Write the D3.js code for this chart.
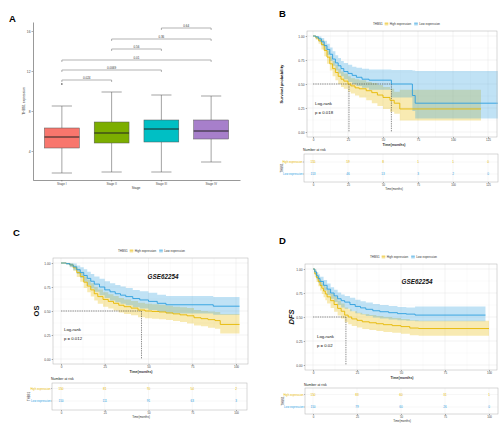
<!DOCTYPE html>
<html><head><meta charset="utf-8">
<script src="https://cdn.jsdelivr.net/npm/d3@7"></script>
<style>body{margin:0;background:#fff}svg{display:block;font-family:"Liberation Sans",Arial,sans-serif}</style>
</head><body><svg id="c" width="500" height="424"></svg>
<script>
// ---------------- DATA ----------------
// Panel A: THBS1 expression by stage
const stages = ["Stage I","Stage II","Stage III","Stage IV"];
const boxMin = [1.8,1.9,1.9,2.9];
const boxQ1  = [4.3,4.8,4.9,5.2];
const boxMed = [5.4,5.8,6.2,6.0];
const boxQ3  = [6.3,6.9,7.1,7.1];
const boxMax = [8.5,9.9,9.6,9.5];
const outlierStage = ["Stage I"];
const outlierValue = [10.7];
const boxColors = ["#F8766D","#7CAE00","#00BFC4","#A77FCB"];
const boxYTicks = [4,8,12,16];
const compFrom = ["Stage I","Stage I","Stage I","Stage II","Stage II","Stage III"];
const compTo   = ["Stage II","Stage III","Stage IV","Stage III","Stage IV","Stage IV"];
const compP    = ["0.024","0.0069","0.01","0.56","0.36","0.64"];
const compY    = [11.1,12.1,13.1,14.2,15.2,16.3];

// Groups
const groups = ["High expression","Low expression"];
const survYTicks = [0,0.25,0.5,0.75,1];

// Panel B (TCGA survival)
const bHighT  = [0,2,4,6,8,10,12,14,16,18,20,22,25,27,30,33,38,42,46,50,55,58,62,120];
const bHighS  = [1,0.98,0.95,0.91,0.85,0.78,0.71,0.66,0.62,0.58,0.55,0.53,0.50,0.48,0.46,0.45,0.43,0.41,0.385,0.36,0.33,0.30,0.24,0.24];
const bHighLo = [1,0.96,0.92,0.86,0.79,0.71,0.64,0.58,0.54,0.50,0.47,0.45,0.42,0.40,0.38,0.36,0.33,0.30,0.27,0.24,0.21,0.19,0.12,0.12];
const bHighHi = [1,1,0.98,0.96,0.91,0.85,0.79,0.74,0.70,0.66,0.63,0.61,0.58,0.56,0.55,0.54,0.52,0.51,0.49,0.47,0.45,0.42,0.44,0.44];
const bLowT   = [0,2,4,6,8,10,12,14,16,18,20,22,25,28,31,35,40,56,71,73,132];
const bLowS   = [1,0.99,0.97,0.94,0.90,0.86,0.81,0.76,0.72,0.69,0.66,0.63,0.61,0.59,0.57,0.55,0.54,0.50,0.38,0.30,0.30];
const bLowLo  = [1,0.97,0.94,0.90,0.85,0.80,0.74,0.69,0.64,0.61,0.58,0.55,0.52,0.50,0.48,0.46,0.44,0.36,0.22,0.14,0.14];
const bLowHi  = [1,1,0.995,0.98,0.95,0.92,0.88,0.84,0.80,0.77,0.74,0.72,0.70,0.68,0.67,0.66,0.65,0.645,0.64,0.635,0.635];
const bMedians = [25.7,56];
const bRiskT = [0,25,50,75,100,125];
const bRiskHigh = [155,59,8,1,1,0];
const bRiskLow  = [153,46,13,3,2,0];

// Panel C (GSE62254 OS)
const cHighT  = [0,3,5,7,9,11,13,15,17,19,21,24,27,30,33,36,40,44,48,52,56,60,64,68,72,76,80,84,88,91,102];
const cHighS  = [1,0.995,0.98,0.95,0.90,0.86,0.80,0.76,0.72,0.68,0.65,0.62,0.60,0.58,0.56,0.545,0.53,0.51,0.50,0.495,0.49,0.48,0.47,0.46,0.45,0.43,0.42,0.41,0.40,0.36,0.36];
const cHighLo = [1,0.985,0.96,0.92,0.855,0.805,0.74,0.695,0.65,0.61,0.575,0.545,0.525,0.505,0.485,0.47,0.455,0.435,0.425,0.42,0.415,0.405,0.395,0.385,0.37,0.35,0.34,0.325,0.315,0.265,0.265];
const cHighHi = [1,1,0.995,0.975,0.94,0.91,0.86,0.825,0.79,0.75,0.725,0.695,0.675,0.655,0.635,0.62,0.605,0.585,0.575,0.57,0.565,0.555,0.545,0.54,0.53,0.51,0.50,0.495,0.49,0.47,0.47];
const cLowT   = [0,3,5,7,9,11,13,15,17,19,22,25,28,31,34,37,41,45,50,55,60,87,102];
const cLowS   = [1,0.995,0.98,0.96,0.93,0.90,0.87,0.84,0.81,0.78,0.75,0.72,0.70,0.68,0.665,0.65,0.63,0.615,0.60,0.58,0.565,0.55,0.55];
const cLowLo  = [1,0.98,0.955,0.925,0.885,0.845,0.805,0.77,0.735,0.70,0.665,0.635,0.61,0.59,0.575,0.56,0.54,0.525,0.51,0.49,0.475,0.46,0.46];
const cLowHi  = [1,1,1,0.995,0.975,0.955,0.935,0.91,0.885,0.86,0.835,0.81,0.79,0.77,0.755,0.74,0.72,0.705,0.69,0.67,0.655,0.645,0.645];
const cMedians = [46];
const cRiskT = [0,25,50,75,100];
const cRiskHigh = [150,81,70,54,2];
const cRiskLow  = [150,111,91,63,3];

// Panel D (GSE62254 DFS)
const dHighT  = [0,1,2,3,4,5,6,7,8,10,12,14,16,18,20,22,25,28,32,36,40,45,50,55,60,100];
const dHighS  = [1,0.95,0.91,0.87,0.83,0.80,0.77,0.74,0.71,0.67,0.63,0.59,0.56,0.52,0.50,0.48,0.465,0.45,0.44,0.43,0.42,0.41,0.40,0.385,0.38,0.38];
const dHighLo = [1,0.915,0.865,0.82,0.775,0.74,0.705,0.675,0.64,0.595,0.555,0.515,0.485,0.445,0.425,0.405,0.39,0.375,0.365,0.355,0.345,0.335,0.325,0.31,0.305,0.305];
const dHighHi = [1,0.985,0.955,0.92,0.885,0.86,0.835,0.81,0.78,0.745,0.71,0.67,0.64,0.60,0.58,0.56,0.545,0.53,0.52,0.51,0.50,0.49,0.48,0.465,0.46,0.46];
const dLowT   = [0,1,2,3,4,6,8,10,12,14,16,18,21,24,27,30,34,38,43,48,53,58,98];
const dLowS   = [1,0.97,0.93,0.90,0.87,0.83,0.79,0.75,0.72,0.69,0.67,0.655,0.63,0.61,0.595,0.58,0.565,0.555,0.545,0.535,0.53,0.52,0.52];
const dLowLo  = [1,0.94,0.89,0.855,0.82,0.775,0.73,0.69,0.655,0.625,0.60,0.585,0.56,0.54,0.525,0.51,0.495,0.485,0.475,0.465,0.46,0.455,0.455];
const dLowHi  = [1,0.995,0.97,0.945,0.92,0.885,0.85,0.81,0.785,0.755,0.735,0.72,0.70,0.68,0.665,0.65,0.635,0.625,0.615,0.605,0.60,0.61,0.61];
const dMedians = [18.7];
const dRiskT = [0,25,50,75,100];
const dRiskHigh = [150,83,60,31,1];
const dRiskLow  = [150,79,60,26,0];

// ---------------- DRAW ----------------
const svg = d3.select("#c");
svg.append("rect").attr("width",500).attr("height",424).attr("fill","#fff");
const YEL = "#E7B800", BLU = "#2E9FDF";
const groupColor = d3.scaleOrdinal().domain(groups).range([YEL,BLU]);

function txt(g, x, y, s, o={}) {
  const t = g.append("text").attr("x",x).attr("y",y).text(s)
    .attr("font-size", o.size||3.5).attr("fill", o.fill||"#333")
    .attr("text-anchor", o.anchor||"start");
  if (o.weight) t.attr("font-weight",o.weight);
  if (o.style) t.attr("font-style",o.style);
  if (o.rotate) t.attr("transform",`rotate(-90,${x},${y})`);
  return t;
}
function styleAxis(ax, size) {
  ax.selectAll("path.domain").attr("stroke","#333").attr("stroke-width",0.5);
  ax.selectAll(".tick line").attr("stroke","#333").attr("stroke-width",0.4);
  ax.selectAll(".tick text").attr("font-size",size||3.3).attr("fill","#444").attr("font-family",null);
}

// ---- Panel A ----
const gA = svg.append("g");
txt(gA, 9, 22, "A", {size:9.5, weight:"bold", fill:"#000"});
const xA = d3.scaleBand().domain(stages).range([33,240]).paddingOuter(0.08);
const yA = d3.scaleLinear().domain([1.1,16.9]).range([180,22]);
const axAL = gA.append("g").attr("transform","translate(33,0)")
  .call(d3.axisLeft(yA).tickValues(boxYTicks).tickSize(1.5).tickSizeOuter(0).tickPadding(1));
styleAxis(axAL, 3.3);
const axAB = gA.append("g").attr("transform","translate(0,180)")
  .call(d3.axisBottom(xA).tickSize(1.5).tickSizeOuter(0).tickPadding(1));
styleAxis(axAB, 3);
txt(gA, 25, 101, "THBS1 expression", {size:3.3, anchor:"middle", rotate:true});
txt(gA, 136, 189, "Stage", {size:3.3, anchor:"middle"});
const bw = xA.bandwidth()*0.7;
stages.forEach((s,i)=>{
  const cx = xA(s)+xA.bandwidth()/2;
  const g = gA.append("g");
  const wc = "#666";
  g.append("line").attr("x1",cx).attr("x2",cx).attr("y1",yA(boxMax[i])).attr("y2",yA(boxQ3[i])).attr("stroke",wc).attr("stroke-width",0.6);
  g.append("line").attr("x1",cx).attr("x2",cx).attr("y1",yA(boxQ1[i])).attr("y2",yA(boxMin[i])).attr("stroke",wc).attr("stroke-width",0.6);
  [boxMax[i],boxMin[i]].forEach(v=>{
    g.append("line").attr("x1",cx-bw*0.29).attr("x2",cx+bw*0.29).attr("y1",yA(v)).attr("y2",yA(v)).attr("stroke",wc).attr("stroke-width",0.6);
  });
  g.append("rect").attr("x",cx-bw/2).attr("width",bw).attr("y",yA(boxQ3[i])).attr("height",yA(boxQ1[i])-yA(boxQ3[i]))
    .attr("fill",boxColors[i]).attr("stroke","#555").attr("stroke-width",0.5);
  g.append("line").attr("x1",cx-bw/2).attr("x2",cx+bw/2).attr("y1",yA(boxMed[i])).attr("y2",yA(boxMed[i])).attr("stroke","#222").attr("stroke-width",1);
});
outlierStage.forEach((s,i)=>{
  gA.append("circle").attr("cx",xA(s)+xA.bandwidth()/2).attr("cy",yA(outlierValue[i])).attr("r",0.8).attr("fill","#333");
});
compP.forEach((p,i)=>{
  const x1 = xA(compFrom[i])+xA.bandwidth()/2, x2 = xA(compTo[i])+xA.bandwidth()/2, y = yA(compY[i]);
  gA.append("path").attr("d",`M${x1},${y+2}V${y}H${x2}V${y+2}`).attr("fill","none").attr("stroke","#666").attr("stroke-width",0.5);
  txt(gA,(x1+x2)/2,y-1.2,p,{size:3,anchor:"middle",fill:"#333"});
});

// ---- KM panels ----
function zip(t,s,lo,hi){ return t.map((v,i)=>({t:v,s:s[i],lo:lo[i],hi:hi[i]})); }

function legend(g, x0, y) {
  let x = x0;
  const t0 = txt(g,x,y,"THBS1",{size:3,fill:"#333"});
  x += t0.node().getComputedTextLength()+2;
  groups.forEach(gr=>{
    const c = groupColor(gr);
    g.append("rect").attr("x",x).attr("y",y-3).attr("width",3.6).attr("height",3.6).attr("fill",c).attr("fill-opacity",0.3).attr("stroke","none");
    g.append("line").attr("x1",x).attr("x2",x+3.6).attr("y1",y-1.2).attr("y2",y-1.2).attr("stroke",c).attr("stroke-width",0.6);
    x += 5;
    const t = txt(g,x,y,gr,{size:3,fill:"#333"});
    x += t.node().getComputedTextLength()+3;
  });
}

function km(o) {
  const g = svg.append("g");
  txt(g, o.labX, o.labY, o.label, {size:9.5, weight:"bold", fill:"#000"});
  const x = d3.scaleLinear().domain(o.xDom).range(o.xRange);
  const y = d3.scaleLinear().domain([0,1]).range(o.yRange);
  g.append("rect").attr("x",o.l).attr("y",o.t).attr("width",o.r-o.l).attr("height",o.b-o.t).attr("fill","#fff");
  // grid
  const xmin = o.xticks.slice(1).map((v,i)=>(v+o.xticks[i])/2);
  const ymin = survYTicks.slice(1).map((v,i)=>(v+survYTicks[i])/2);
  xmin.forEach(v=>g.append("line").attr("x1",x(v)).attr("x2",x(v)).attr("y1",o.t).attr("y2",o.b).attr("stroke","#f2f2f2").attr("stroke-width",0.3));
  ymin.forEach(v=>g.append("line").attr("y1",y(v)).attr("y2",y(v)).attr("x1",o.l).attr("x2",o.r).attr("stroke","#f2f2f2").attr("stroke-width",0.3));
  o.xticks.forEach(v=>g.append("line").attr("x1",x(v)).attr("x2",x(v)).attr("y1",o.t).attr("y2",o.b).attr("stroke","#e6e6e6").attr("stroke-width",0.45));
  survYTicks.forEach(v=>g.append("line").attr("y1",y(v)).attr("y2",y(v)).attr("x1",o.l).attr("x2",o.r).attr("stroke","#e6e6e6").attr("stroke-width",0.45));
  // bands
  const area = d3.area().x(d=>x(d.t)).y0(d=>y(d.lo)).y1(d=>y(d.hi)).curve(d3.curveStepAfter);
  const line = d3.line().x(d=>x(d.t)).y(d=>y(d.s)).curve(d3.curveStepAfter);
  o.curves.forEach(c=>{
    g.append("path").attr("d",area(c.data)).attr("fill",groupColor(c.group)).attr("fill-opacity",0.3).attr("stroke","none");
  });
  // medians
  const dash = "1.4,0.9";
  const medMax = d3.max(o.medians);
  g.append("line").attr("x1",x(0)).attr("x2",x(medMax)).attr("y1",y(0.5)).attr("y2",y(0.5)).attr("stroke","#222").attr("stroke-width",0.5).attr("stroke-dasharray",dash);
  o.medians.forEach(m=>g.append("line").attr("x1",x(m)).attr("x2",x(m)).attr("y1",y(0.5)).attr("y2",y(0)).attr("stroke","#222").attr("stroke-width",0.5).attr("stroke-dasharray",dash));
  o.curves.forEach(c=>{
    g.append("path").attr("d",line(c.data)).attr("fill","none").attr("stroke",groupColor(c.group)).attr("stroke-width",0.9);
  });
  g.append("rect").attr("x",o.l).attr("y",o.t).attr("width",o.r-o.l).attr("height",o.b-o.t).attr("fill","none").attr("stroke","#b0b0b0").attr("stroke-width",0.5);
  const axl = g.append("g").attr("transform",`translate(${o.l},0)`).call(d3.axisLeft(y).tickValues(survYTicks).tickFormat(d3.format(".2f")).tickSize(1.3).tickPadding(1.2));
  axl.select("path.domain").remove(); styleAxis(axl,3.2);
  const axb = g.append("g").attr("transform",`translate(0,${o.b})`).call(d3.axisBottom(x).tickValues(o.xticks).tickSize(1.3).tickPadding(0.6));
  axb.select("path.domain").remove(); styleAxis(axb,3);
  txt(g, o.xtX, o.b+9.3, "Time(months)", {size:3.5, anchor:"middle", weight:"bold", fill:"#333"});
  txt(g, o.ytX, (o.t+o.b)/2, o.ytitle, {size:o.ytSize, anchor:"middle", weight:"bold", style:o.ytStyle, rotate:true, fill:"#111"});
  if (o.gse) txt(g, o.gseX, o.gseY, o.gse, {size:6.3, anchor:"middle", weight:"bold", style:"italic", fill:"#111"});
  txt(g, o.lrX, o.lrY, "Log-rank", {size:4.3, fill:"#111"});
  txt(g, o.lrX, o.lrY+9, o.p, {size:4.3, fill:"#111"});
  legend(g, o.legX, o.legY);

  // risk table
  const R = o.risk;
  txt(g, R.l-1, R.titleY, "Number at risk", {size:3.5, fill:"#222"});
  const yR = d3.scalePoint().domain(groups).range([R.row1,R.row2]);
  g.append("rect").attr("x",R.l).attr("y",R.t).attr("width",R.r-R.l).attr("height",R.b-R.t).attr("fill","#fff");
  o.xticks.forEach(v=>g.append("line").attr("x1",x(v)).attr("x2",x(v)).attr("y1",R.t).attr("y2",R.b).attr("stroke","#ececec").attr("stroke-width",0.4));
  groups.forEach(gr=>g.append("line").attr("x1",R.l).attr("x2",R.r).attr("y1",yR(gr)).attr("y2",yR(gr)).attr("stroke","#ececec").attr("stroke-width",0.4));
  g.append("rect").attr("x",R.l).attr("y",R.t).attr("width",R.r-R.l).attr("height",R.b-R.t).attr("fill","none").attr("stroke","#b0b0b0").attr("stroke-width",0.5);
  R.times.forEach((t,i)=>{
    txt(g, x(t), yR(groups[0])+1.1, String(R.high[i]), {size:3.1, anchor:"middle", fill:YEL});
    txt(g, x(t), yR(groups[1])+1.1, String(R.low[i]), {size:3.1, anchor:"middle", fill:BLU});
  });
  groups.forEach(gr=>{
    txt(g, R.l-1.5, yR(gr)+1, gr, {size:2.8, anchor:"end", fill:groupColor(gr)});
    g.append("line").attr("x1",R.l-1).attr("x2",R.l).attr("y1",yR(gr)).attr("y2",yR(gr)).attr("stroke","#333").attr("stroke-width",0.3);
  });
  txt(g, R.thX, (R.t+R.b)/2, "THBS1", {size:2.8, anchor:"middle", rotate:true, fill:"#222"});
  const axr = g.append("g").attr("transform",`translate(0,${R.b})`).call(d3.axisBottom(x).tickValues(o.xticks).tickSize(1).tickPadding(0.6));
  axr.select("path.domain").remove(); styleAxis(axr,2.8);
  txt(g, o.xtX, R.b+8, "Time(months)", {size:2.9, anchor:"middle", fill:"#333"});
}

km({label:"B", labX:279, labY:17,
  l:307, r:497, t:31, b:137, xDom:[0,125], xRange:[313,488], yRange:[132,36],
  xticks:[0,25,50,75,100,125], xtX:394,
  ytitle:"Survival probability", ytX:283, ytSize:4.2, ytStyle:null,
  lrX:315, lrY:105, p:"p = 0.018", legX:373, legY:25,
  medians:bMedians,
  curves:[{group:groups[0], data:zip(bHighT,bHighS,bHighLo,bHighHi)},{group:groups[1], data:zip(bLowT,bLowS,bLowLo,bLowHi)}],
  risk:{l:304, r:498, t:154, b:182, row1:162, row2:174, titleY:151, thX:283, times:bRiskT, high:bRiskHigh, low:bRiskLow}
});
km({label:"C", labX:13, labY:236,
  l:53, r:248, t:258, b:364, xDom:[0,100], xRange:[61,236], yRange:[359,263],
  xticks:[0,25,50,75,100], xtX:141,
  ytitle:"OS", ytX:39, ytSize:7.5, ytStyle:null,
  gse:"GSE62254", gseX:163, gseY:279,
  lrX:64, lrY:331, p:"p = 0.012", legX:118, legY:252,
  medians:cMedians,
  curves:[{group:groups[0], data:zip(cHighT,cHighS,cHighLo,cHighHi)},{group:groups[1], data:zip(cLowT,cLowS,cLowLo,cLowHi)}],
  risk:{l:52, r:247, t:383, b:410, row1:388.5, row2:401, titleY:379.5, thX:30, times:cRiskT, high:cRiskHigh, low:cRiskLow}
});
km({label:"D", labX:279, labY:244,
  l:305, r:497, t:264, b:370, xDom:[0,100], xRange:[313,489], yRange:[365,269],
  xticks:[0,25,50,75,100], xtX:402,
  ytitle:"DFS", ytX:294, ytSize:7.5, ytStyle:"italic",
  gse:"GSE62254", gseX:417, gseY:284,
  lrX:317, lrY:338, p:"p = 0.02", legX:370, legY:258,
  medians:dMedians,
  curves:[{group:groups[0], data:zip(dHighT,dHighS,dHighLo,dHighHi)},{group:groups[1], data:zip(dLowT,dLowS,dLowLo,dLowHi)}],
  risk:{l:305, r:498, t:388, b:414, row1:394.5, row2:407, titleY:385.5, thX:284, times:dRiskT, high:dRiskHigh, low:dRiskLow}
});
</script></body></html>
